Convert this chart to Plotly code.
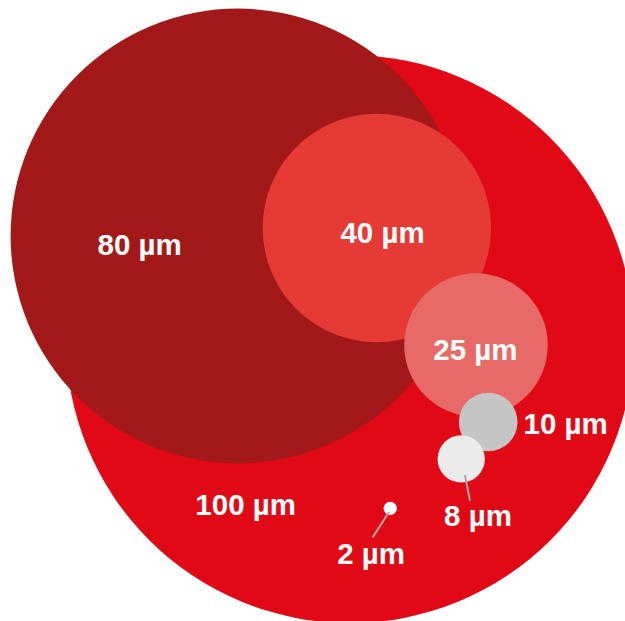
import plotly.graph_objects as go

# ---- data ----
LABELS = ["100 µm", "80 µm", "40 µm", "25 µm", "10 µm", "8 µm", "2 µm"]
SIZES_UM = [100, 80, 40, 25, 10, 8, 2]
COLORS = ["#E20916", "#A3191A", "#E63A35", "#E86A66", "#C5C5C5", "#EBEBEB", "#FFFFFF"]

# packed-bubble layout (chart units, y downward)
BUBBLE_X = [123.2, 83.8, 132.7, 167.6, 171.9, 162.4, 137.4]
BUBBLE_Y = [119.4, 83.1, 80.3, 121.5, 148.6, 161.6, 179.0]
LABEL_X = [86.5, 49.2, 134.7, 167.4, 199.2, 168.3, 130.7]
LABEL_Y = [178.7, 87.2, 83.0, 124.2, 150.3, 182.7, 195.9]
# connectors for outside labels: (index, start x, start y, end x, end y)
CONNECTORS = [(5, 163.7, 167.3, 165.5, 176.3), (6, 137.0, 180.3, 131.2, 189.2)]

W, H = 625, 621
PX_PER_UNIT = 2.84
MIN_R, MAX_R = 2.35, 100.0


def radius(v):
    vmin, vmax = min(SIZES_UM), max(SIZES_UM)
    return MIN_R + (MAX_R - MIN_R) * (v - vmin) / (vmax - vmin)


shapes = []
for x, y, v, c in zip(BUBBLE_X, BUBBLE_Y, SIZES_UM, COLORS):
    r = radius(v)
    shapes.append(dict(type="circle", xref="x", yref="y",
                       x0=x - r, x1=x + r, y0=y - r, y1=y + r,
                       fillcolor=c, line=dict(width=0), layer="below"))
for i, x0, y0, x1, y1 in CONNECTORS:
    shapes.append(dict(type="line", xref="x", yref="y", x0=x0, y0=y0, x1=x1, y1=y1,
                       line=dict(color="#A9A9A9", width=2), layer="below"))

fig = go.Figure()
fig.add_trace(go.Scatter(
    x=LABEL_X, y=LABEL_Y, mode="text", text=LABELS,
    textposition="middle center",
    textfont=dict(family="Liberation Sans, Arial, sans-serif", size=29.5,
                  color="white", weight="bold"),
    hoverinfo="skip", showlegend=False))

fig.update_layout(
    width=W, height=H, margin=dict(l=0, r=0, t=0, b=0),
    paper_bgcolor="white", plot_bgcolor="white",
    shapes=shapes, showlegend=False, hovermode=False,
    xaxis=dict(range=[0, W / PX_PER_UNIT], visible=False, fixedrange=True),
    yaxis=dict(range=[H / PX_PER_UNIT, 0], visible=False, fixedrange=True),
)
fig.write_html("out.html", config={"displayModeBar": False},
               post_script="document.body.style.margin='0';document.body.style.overflow='hidden';")
